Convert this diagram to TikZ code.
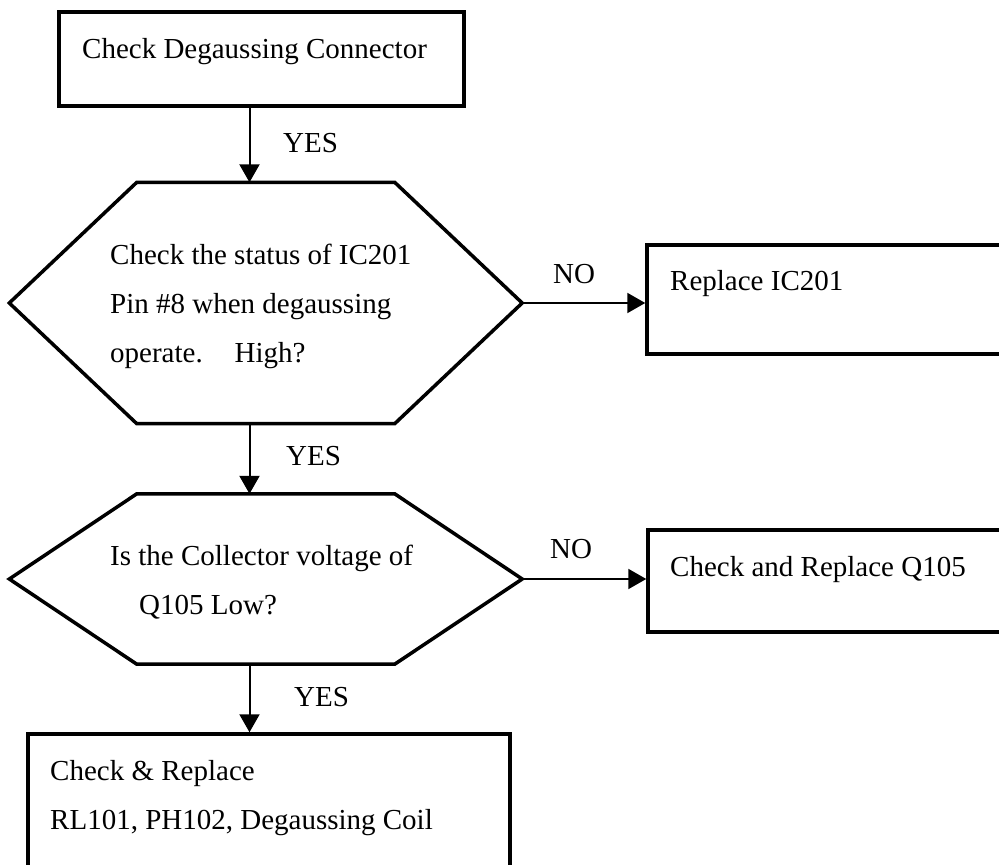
\documentclass[tikz,border=0pt]{standalone}
\usepackage{fontspec}
\setmainfont{Liberation Serif}
\usetikzlibrary{arrows.meta,calc}
\begin{document}
\begin{tikzpicture}[x=1pt,y=-1pt,
  every node/.style={font=\fontsize{29}{35}\selectfont},
  frame/.style={draw=black, line width=3.5pt, inner sep=0pt},
  hexbox/.style={inner sep=0pt},
  hexline/.style={draw=black, line width=3.5pt, line join=miter},
  flow/.style={draw=black, line width=2pt, -{Triangle[length=18pt,width=20pt]}},
  txt/.style={anchor=base west, inner sep=0pt}
]
\useasboundingbox (0,0) rectangle (999,865);
\clip (0,0) rectangle (999,865);

% vertical spine of the flow
\coordinate (spine) at (249.5,0);

% process boxes
\node[frame, minimum width=405pt, minimum height=94pt] (box1) at (261.5,59) {};
\node[frame, minimum width=453pt, minimum height=109pt] (box2) at (873.5,299.5) {};
\node[frame, minimum width=452pt, minimum height=102pt] (box3) at (874,581) {};
\node[frame, minimum width=482pt, minimum height=166pt] (box4) at (269,817) {};

% decision hexagons
\node[hexbox, minimum width=512.5pt, minimum height=241pt] (hexA) at (265.75,303) {};
\node[hexbox, minimum width=512.5pt, minimum height=170pt] (hexB) at (265.75,579) {};
\foreach \h in {hexA,hexB}{
  \draw[hexline] (\h.west) -- ($(\h.north west)+(127.5,0)$) -- ($(\h.north east)+(-127.5,0)$)
    -- (\h.east) -- ($(\h.south east)+(-127.5,0)$) -- ($(\h.south west)+(127.5,0)$) -- cycle;
}

% texts
\node[txt] (t1) at (82,58) {Check Degaussing Connector};
\node[txt] (tA1) at (110,264.5) {Check the status of IC201};
\node[txt] (tA2) at (110,313.5) {Pin \#8 when degaussing};
\node[txt] (tA3) at (110,362.5) {operate.\hspace{1.1em}High?};
\node[txt] (t2) at (670,290) {Replace IC201};
\node[txt] (tB1) at (110,565) {Is the Collector voltage of};
\node[txt] (tB2) at (139,614) {Q105 Low?};
\node[txt] (t3) at (670,576) {Check and Replace Q105};
\node[txt] (t4a) at (50,780) {Check \& Replace};
\node[txt] (t4b) at (50,829) {RL101, PH102, Degaussing Coil};

% connectors
\draw[flow] (box1.south -| spine) -- (hexA.north -| spine);
\draw[flow] (hexA.east) -- (hexA.east -| box2.west);
\draw[flow] (hexA.south -| spine) -- (hexB.north -| spine);
\draw[flow] (hexB.east) -- (hexB.east -| box3.west);
\draw[flow] (hexB.south -| spine) -- (box4.north -| spine);

% connector labels
\node[txt] (y1) at (283,152) {YES};
\node[txt] (n1) at (553,283) {NO};
\node[txt] (y2) at (286,465) {YES};
\node[txt] (n2) at (550,558) {NO};
\node[txt] (y3) at (294,706) {YES};
\end{tikzpicture}
\end{document}
